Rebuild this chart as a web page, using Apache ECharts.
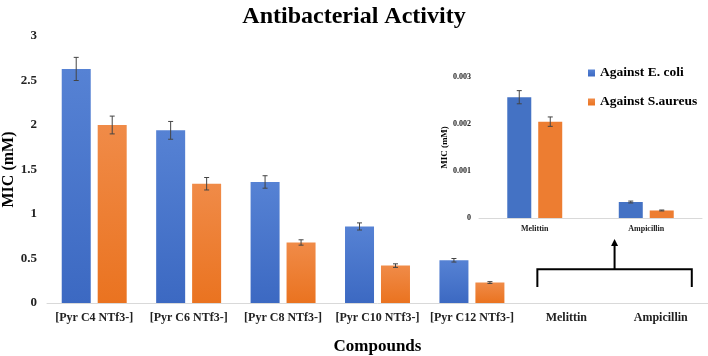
<!DOCTYPE html>
<html>
<head>
<meta charset="utf-8">
<script src="https://cdn.jsdelivr.net/npm/echarts@6/dist/echarts.min.js"></script>
<style>
  html, body { margin: 0; padding: 0; background: #fff; }
  #chart { width: 708px; height: 356px; }
</style>
</head>
<body>
<div id="chart"></div>
<script>
  // main chart data
  var compounds = ['[Pyr C4 NTf3-]', '[Pyr C6 NTf3-]', '[Pyr C8 NTf3-]', '[Pyr C10 NTf3-]', '[Pyr C12 NTf3-]', 'Melittin', 'Ampicillin'];
  var ecoli = [2.63, 1.94, 1.36, 0.86, 0.48, '-', '-'];
  var ecoliErr = [0.13, 0.1, 0.07, 0.04, 0.02, 0, 0];
  var saureus = [2.0, 1.34, 0.68, 0.42, 0.23, '-', '-'];
  var saureusErr = [0.1, 0.07, 0.03, 0.02, 0.01, 0, 0];
  var yTicks = [0, 0.5, 1, 1.5, 2, 2.5, 3];

  // inset data
  var insetCats = ['Melittin', 'Ampicillin'];
  var insetEcoli = [0.00257, 0.00034];
  var insetEcoliErr = [0.00014, 0.00002];
  var insetSaureus = [0.00205, 0.00016];
  var insetSaureusErr = [0.0001, 0.00001];

  var chart = echarts.init(document.getElementById('chart'));
  var serif = 'Liberation Serif';

  function grad(top, bottom) {
    return new echarts.graphic.LinearGradient(0, 0, 0, 1, [
      { offset: 0, color: top },
      { offset: 1, color: bottom }
    ]);
  }

  // error bar renderer; shift moves it onto the matching bar
  function errBars(vals, errs, shift) {
    return function (params, api) {
      var i = params.dataIndex;
      var v = vals[i];
      if (v === '-' || !errs[i]) return null;
      var hi = api.coord([i, v + errs[i]]);
      var lo = api.coord([i, v - errs[i]]);
      var x = hi[0] + shift;
      var style = { stroke: '#444', lineWidth: 1 };
      return {
        type: 'group',
        children: [
          { type: 'line', shape: { x1: x, y1: hi[1], x2: x, y2: lo[1] }, style: style },
          { type: 'line', shape: { x1: x - 2.5, y1: hi[1], x2: x + 2.5, y2: hi[1] }, style: style },
          { type: 'line', shape: { x1: x - 2.5, y1: lo[1], x2: x + 2.5, y2: lo[1] }, style: style }
        ]
      };
    };
  }

  var idx = compounds.map(function (c, i) { return i; });
  var idx2 = insetCats.map(function (c, i) { return i; });

  chart.setOption({
    animation: false,
    title: {
      text: 'Antibacterial Activity',
      left: 'center',
      top: 0,
      textStyle: { fontFamily: serif, fontWeight: 'bold', fontSize: 24, color: '#000' }
    },
    legend: {
      data: ['Against E. coli', 'Against S.aureus'],
      orient: 'vertical',
      left: 583,
      top: 61,
      itemWidth: 7,
      itemHeight: 7,
      itemGap: 15,
      icon: 'rect',
      textStyle: { fontFamily: serif, fontWeight: 'bold', fontSize: 13.5, color: '#000' }
    },
    grid: [
      { left: 47, right: 0, top: 36, bottom: 53, outerBoundsMode: 'none' },
      { left: 479, right: 6, top: 77, bottom: 138, outerBoundsMode: 'none' }
    ],
    xAxis: [{
      type: 'category',
      gridIndex: 0,
      data: compounds,
      axisLine: { lineStyle: { color: '#d9d9d9' } },
      axisTick: { show: false },
      axisLabel: { fontFamily: serif, fontWeight: 'bold', fontSize: 12, color: '#222', margin: 9, interval: 0 },
      name: 'Compounds',
      nameLocation: 'middle',
      nameGap: 35,
      nameTextStyle: { fontFamily: serif, fontWeight: 'bold', fontSize: 17, color: '#000' }
    }, {
      type: 'category',
      gridIndex: 1,
      data: insetCats,
      axisLine: { lineStyle: { color: '#d9d9d9' } },
      axisTick: { show: false },
      axisLabel: { fontFamily: serif, fontWeight: 'bold', fontSize: 8, color: '#222', margin: 7 }
    }],
    yAxis: [{
      type: 'value',
      gridIndex: 0,
      min: yTicks[0],
      max: yTicks[yTicks.length - 1],
      interval: 0.5,
      splitLine: { show: false },
      axisLine: { show: false },
      axisLabel: { fontFamily: serif, fontWeight: 'bold', fontSize: 13, color: '#222', margin: 10 },
      name: 'MIC (mM)',
      nameLocation: 'middle',
      nameGap: 30,
      nameMoveOverlap: false,
      nameTextStyle: { fontFamily: serif, fontWeight: 'bold', fontSize: 16, color: '#000' }
    }, {
      type: 'value',
      gridIndex: 1,
      min: 0,
      max: 0.003,
      interval: 0.001,
      splitLine: { show: false },
      axisLine: { show: false },
      axisLabel: { fontFamily: serif, fontWeight: 'bold', fontSize: 8, color: '#222', margin: 8 },
      name: 'MIC (mM)',
      nameLocation: 'middle',
      nameGap: 30,
      nameTextStyle: { fontFamily: serif, fontWeight: 'bold', fontSize: 9, color: '#000' }
    }],
    series: [
      {
        name: 'Against E. coli', type: 'bar', xAxisIndex: 0, yAxisIndex: 0,
        data: ecoli, barWidth: 29, barGap: '24%',
        itemStyle: { color: grad('#5682d4', '#3c69c2') }
      },
      {
        name: 'Against S.aureus', type: 'bar', xAxisIndex: 0, yAxisIndex: 0,
        data: saureus, barWidth: 29, barGap: '24%',
        itemStyle: { color: grad('#f08b48', '#ea7320') }
      },
      {
        type: 'custom', xAxisIndex: 0, yAxisIndex: 0, data: idx, z: 5,
        renderItem: errBars(ecoli, ecoliErr, -18)
      },
      {
        type: 'custom', xAxisIndex: 0, yAxisIndex: 0, data: idx, z: 5,
        renderItem: errBars(saureus, saureusErr, 18)
      },
      {
        name: 'Against E. coli', type: 'bar', xAxisIndex: 1, yAxisIndex: 1,
        data: insetEcoli, barWidth: 24, barGap: '29%',
        itemStyle: { color: '#4472c4' }
      },
      {
        name: 'Against S.aureus', type: 'bar', xAxisIndex: 1, yAxisIndex: 1,
        data: insetSaureus, barWidth: 24, barGap: '29%',
        itemStyle: { color: '#ed7d31' }
      },
      {
        type: 'custom', xAxisIndex: 1, yAxisIndex: 1, data: idx2, z: 5,
        renderItem: errBars(insetEcoli, insetEcoliErr, -15.5)
      },
      {
        type: 'custom', xAxisIndex: 1, yAxisIndex: 1, data: idx2, z: 5,
        renderItem: errBars(insetSaureus, insetSaureusErr, 15.5)
      }
    ],
    color: ['#4472c4', '#ed7d31']
  });

  // bracket + arrow pointing from Melittin/Ampicillin slots to the inset
  var pMel = chart.convertToPixel({ gridIndex: 0 }, ['Melittin', 0.38]);
  var pAmp = chart.convertToPixel({ gridIndex: 0 }, ['Ampicillin', 0.18]);
  var xl = pMel[0] - 29, xr = pAmp[0] + 31, yb = pMel[1], yt = pAmp[1];
  var xm = (xl + xr) / 2;
  var yArrow = chart.convertToPixel({ gridIndex: 0 }, ['Melittin', 0.72])[1];
  var lineStyle = { stroke: '#000', lineWidth: 2, fill: null };
  chart.setOption({
    graphic: [
      { type: 'polyline', shape: { points: [[xl, yt], [xl, yb], [xr, yb], [xr, yt]] }, style: lineStyle },
      { type: 'line', shape: { x1: xm, y1: yb, x2: xm, y2: yArrow + 5 }, style: lineStyle },
      { type: 'polygon', shape: { points: [[xm - 3.5, yArrow + 7], [xm, yArrow], [xm + 3.5, yArrow + 7]] }, style: { fill: '#000' } }
    ]
  });

  window.addEventListener('resize', function () {
    chart.resize();
  });
</script>
</body>
</html>
